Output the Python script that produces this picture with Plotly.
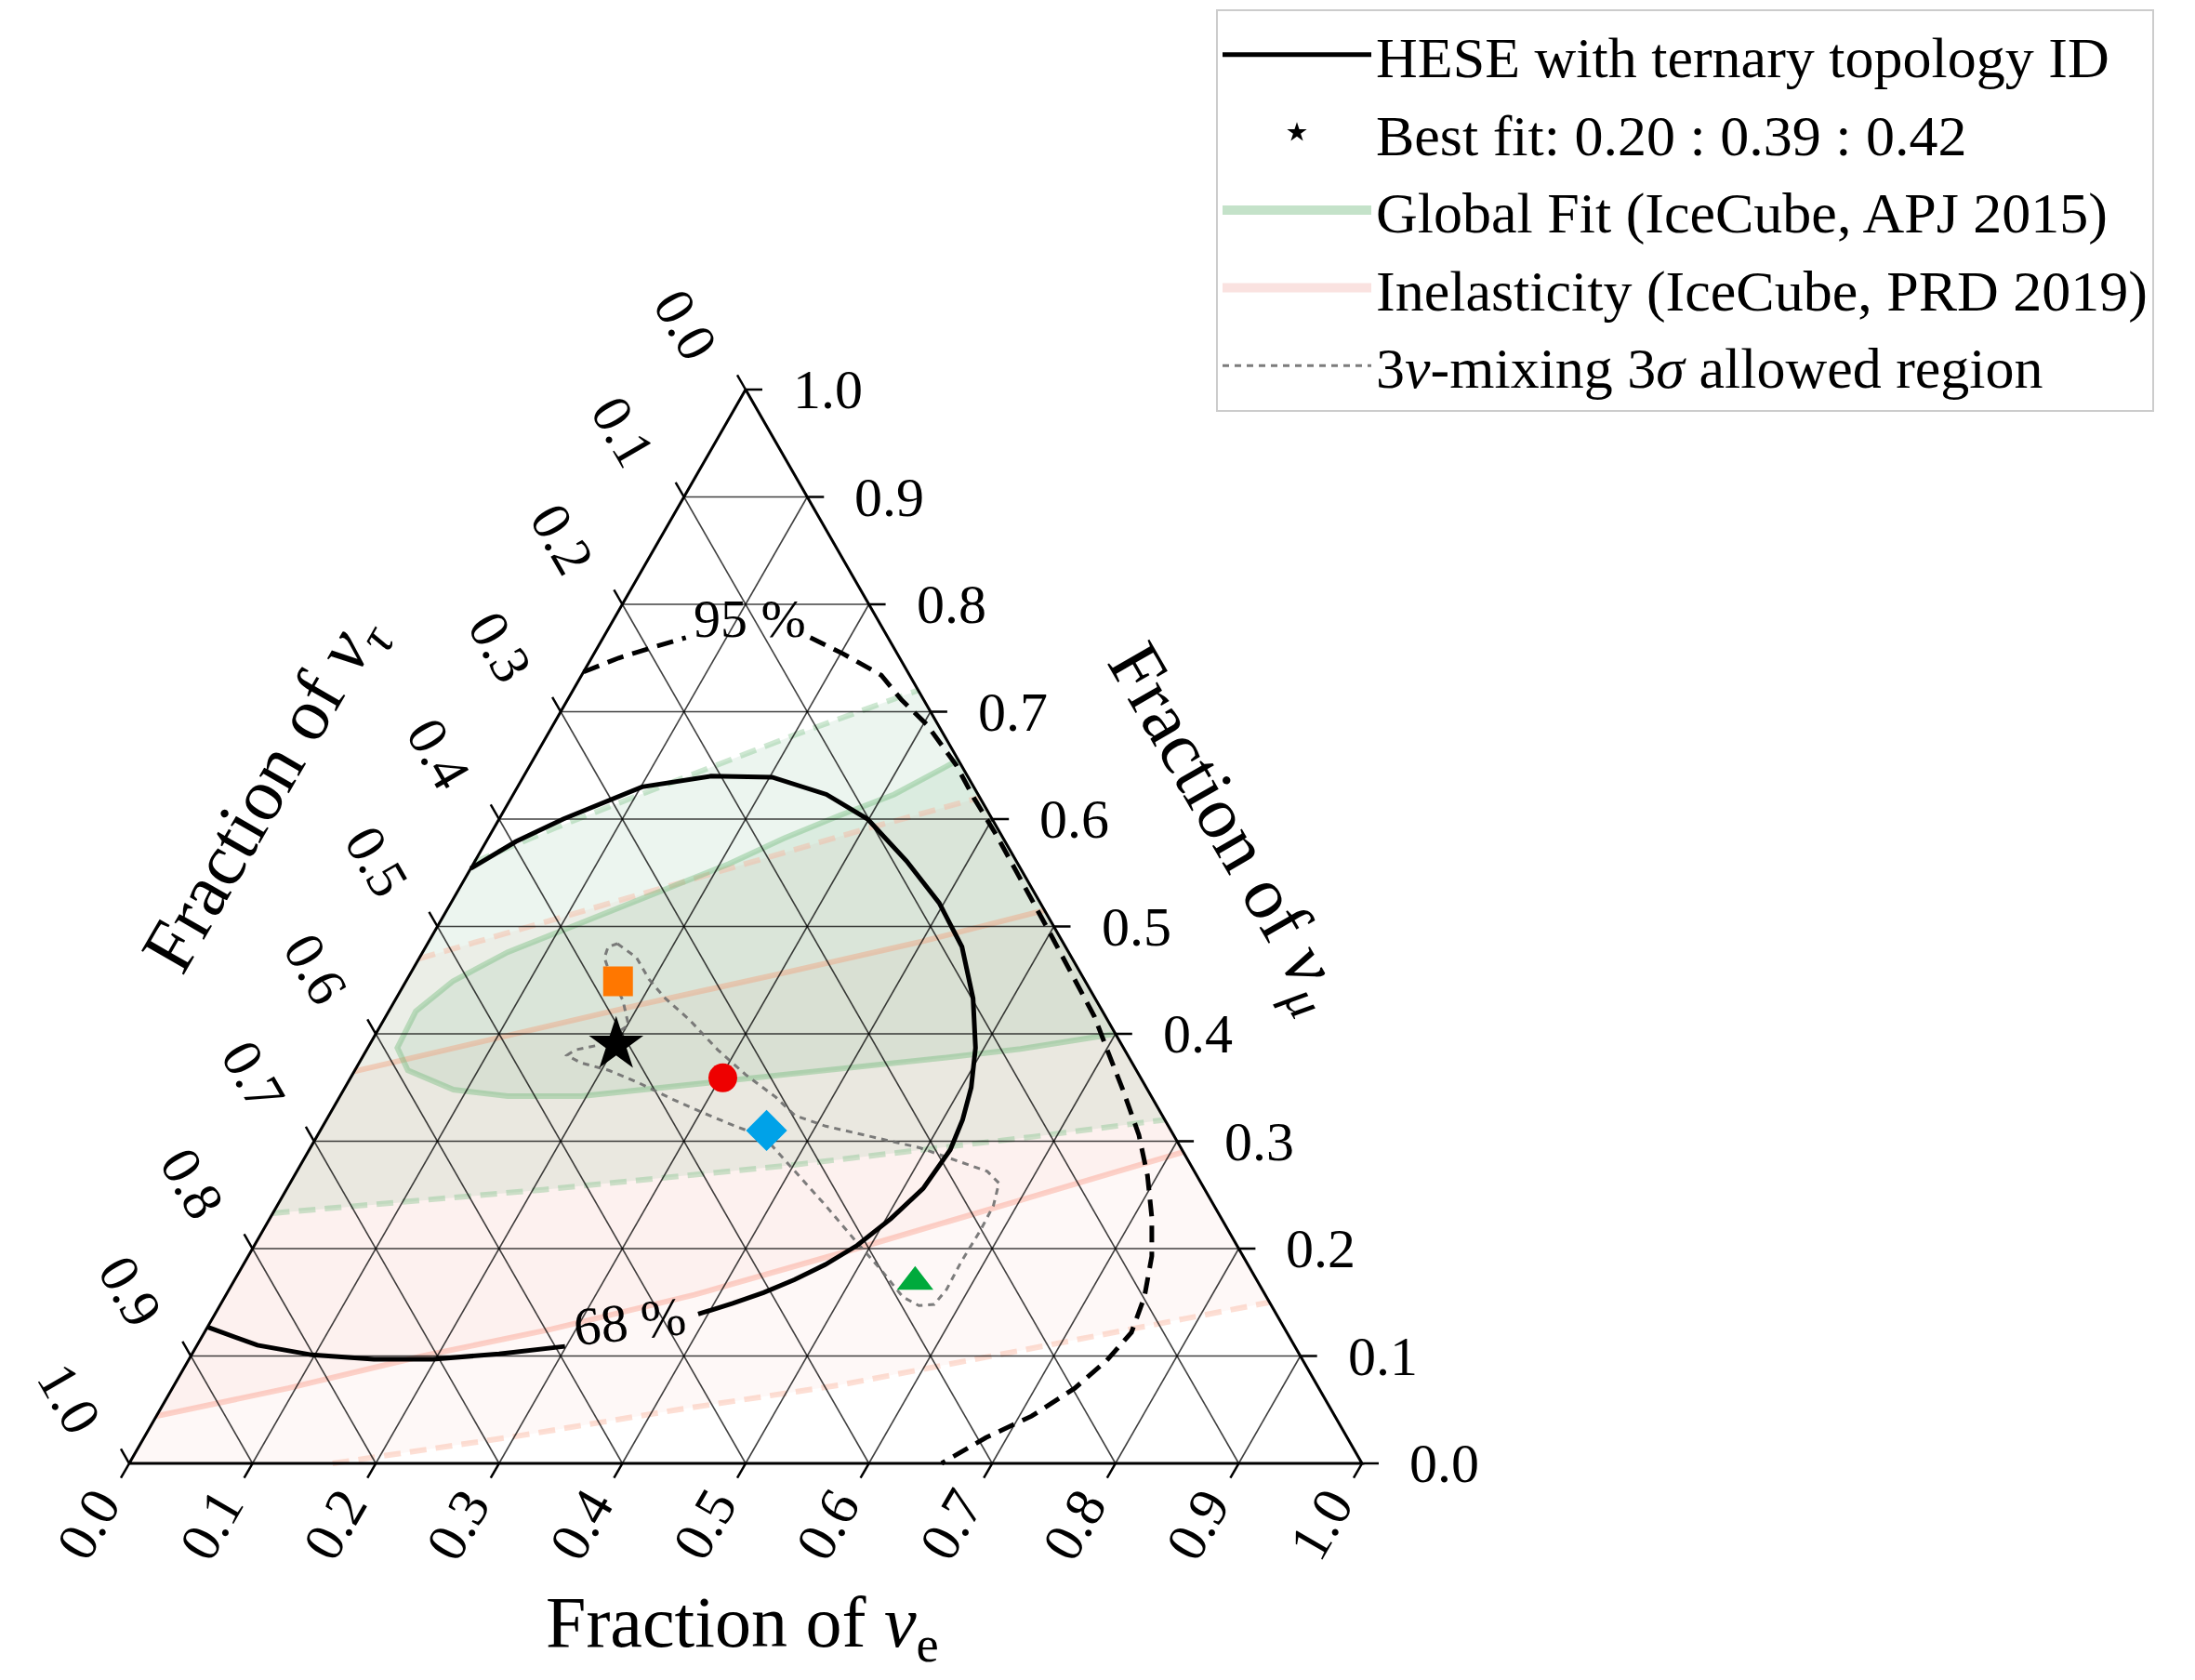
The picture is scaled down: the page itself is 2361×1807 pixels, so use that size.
import math
import plotly.graph_objects as go

# ------------------------------------------------------------------
# DATA  (every composition is given as (nu_e fraction, nu_mu fraction);
#        nu_tau fraction = 1 - e - mu)
# ------------------------------------------------------------------
TICK_VALUES = [0.0, 0.1, 0.2, 0.3, 0.4, 0.5, 0.6, 0.7, 0.8, 0.9, 1.0]
TICK_LABELS = ["0.0", "0.1", "0.2", "0.3", "0.4", "0.5", "0.6", "0.7", "0.8", "0.9", "1.0"]

# HESE with ternary topology ID, 68 % contour (None = gap for the inline label)
HESE68_E = [0.000, 0.024, 0.052, 0.101, 0.152, 0.202, 0.254, 0.299, 0.350, 0.396, 0.435, 0.468,
            0.493, 0.508, 0.516, 0.520, 0.516, 0.504, 0.489, 0.472, 0.454, 0.435, 0.415, 0.392,
            None, 0.299, 0.249, 0.198, 0.150, 0.098, 0.049, 0.000]
HESE68_MU = [0.554, 0.579, 0.600, 0.630, 0.640, 0.639, 0.623, 0.600, 0.561, 0.522, 0.481, 0.433,
             0.387, 0.350, 0.320, 0.292, 0.256, 0.228, 0.203, 0.185, 0.171, 0.159, 0.149, 0.139,
             None, 0.109, 0.102, 0.097, 0.097, 0.101, 0.110, 0.127]
# HESE 95 % contour
HESE95_E = [0.000, 0.022, 0.045, 0.067, None, 0.168, 0.202, 0.243, 0.271, 0.303, 0.346, 0.375,
            0.412, 0.494, 0.575, 0.600, 0.632, 0.666, 0.692, 0.715, 0.733, 0.746, 0.752, 0.745,
            0.732, 0.710, 0.683, 0.659]
HESE95_MU = [0.737, 0.750, 0.760, 0.769, None, 0.769, 0.754, 0.734, 0.711, 0.688, 0.650, 0.620,
             0.584, 0.500, 0.416, 0.386, 0.348, 0.306, 0.268, 0.229, 0.193, 0.155, 0.122, 0.096,
             0.070, 0.044, 0.024, 0.000]
LABEL68 = (0.340, 0.132)
LABEL95 = (0.110, 0.787)

# Best fit
BEST_E = [0.20]
BEST_MU = [0.39]

# Source-composition benchmark points at Earth
SOURCE_E = [0.172, 0.302, 0.362, 0.553]
SOURCE_MU = [0.449, 0.359, 0.310, 0.169]
SOURCE_SYMBOLS = ["square", "circle", "diamond", "triangle-up"]
SOURCE_COLORS = ["#ff7700", "#ee0000", "#00a2e8", "#00aa3c"]

# 3nu-mixing 3 sigma allowed region (closed outline)
MIX_E = [0.154, 0.176, 0.196, 0.217, 0.248, 0.285, 0.319, 0.354, 0.378, 0.408, 0.451, 0.494,
         0.533, 0.560, 0.575, 0.581, 0.582, 0.581, 0.582, 0.579, 0.567, 0.550, 0.520, 0.487,
         0.445, 0.404, 0.363, 0.332, 0.301, 0.269, 0.237, 0.206, 0.180, 0.165, 0.169, 0.184,
         0.201, 0.185, 0.161, 0.150, 0.148, 0.154]
MIX_MU = [0.484, 0.471, 0.451, 0.434, 0.413, 0.385, 0.362, 0.341, 0.324, 0.314, 0.304, 0.294,
          0.281, 0.272, 0.261, 0.240, 0.217, 0.188, 0.162, 0.148, 0.147, 0.155, 0.180, 0.206,
          0.240, 0.272, 0.304, 0.315, 0.327, 0.340, 0.354, 0.366, 0.373, 0.380, 0.385, 0.389,
          0.408, 0.431, 0.457, 0.471, 0.481, 0.484]

# Global fit (IceCube, ApJ 2015)
GF68_E = [0.345, 0.309, 0.274, 0.240, 0.207, 0.173, 0.138, 0.104, 0.069, 0.038, 0.022, 0.024,
          0.043, 0.089, 0.136, 0.196, 0.252, 0.308, 0.364, 0.420, 0.467, 0.530, 0.600]
GF68_MU = [0.655, 0.623, 0.603, 0.582, 0.558, 0.538, 0.517, 0.496, 0.476, 0.449, 0.421, 0.387,
           0.366, 0.348, 0.342, 0.342, 0.349, 0.356, 0.363, 0.370, 0.377, 0.386, 0.400]
GF95_LOW_E = [0.000, 0.100, 0.210, 0.400, 0.580, 0.680]
GF95_LOW_MU = [0.233, 0.243, 0.255, 0.278, 0.304, 0.320]
GF95_UP_E = [0.000, 0.050, 0.100, 0.142, 0.200, 0.280]
GF95_UP_MU = [0.560, 0.592, 0.621, 0.645, 0.678, 0.720]

# Inelasticity (IceCube, PRD 2019)
IN68_LOW_E = [0.000, 0.094, 0.188, 0.280, 0.380, 0.490, 0.600, 0.710]
IN68_LOW_MU = [0.044, 0.070, 0.100, 0.125, 0.157, 0.200, 0.245, 0.290]
IN68_UP_E = [0.000, 0.100, 0.200, 0.300, 0.400, 0.485]
IN68_UP_MU = [0.365, 0.396, 0.427, 0.456, 0.486, 0.515]
IN95_LOW_E = [0.165, 0.300, 0.420, 0.540, 0.670, 0.850]
IN95_LOW_MU = [0.000, 0.025, 0.050, 0.073, 0.105, 0.150]
IN95_UP_E = [0.000, 0.100, 0.200, 0.300, 0.380]
IN95_UP_MU = [0.470, 0.510, 0.550, 0.590, 0.620]
IN95_CORNER_E = [0.0]     # tau vertex enclosed by the 95 % band
IN95_CORNER_MU = [0.0]

LEGEND_NAMES = ["HESE with ternary topology ID", "Best fit: 0.20 : 0.39 : 0.42",
                "Global Fit (IceCube, APJ 2015)", "Inelasticity (IceCube, PRD 2019)",
                "3<i>ν</i>-mixing 3<i>σ</i> allowed region"]

# ------------------------------------------------------------------
# Geometry / helpers
# ------------------------------------------------------------------
H = math.sqrt(3) / 2
FIG_W, FIG_H = 2361, 1807
ORIGIN_PX = (131, 1566)        # pixel of the nu_tau = 1 vertex
BASE_PX = 1326                 # triangle base length in pixels
HEIGHT_PX = 1155               # triangle height in pixels
PX_X = BASE_PX
PX_Y = HEIGHT_PX / H

FONT = "Liberation Serif, Times New Roman, serif"


def txy(es, mus):
    xs, ys = [], []
    for e, m in zip(es, mus):
        if e is None or m is None:
            xs.append(None)
            ys.append(None)
        else:
            xs.append(e + m / 2.0)
            ys.append(m * H)
    return xs, ys


fig = go.Figure()

# ---------------- filled bands ----------------
GREEN_FILL = "rgba(70,160,100,0.10)"
PINK_FILL = "rgba(240,110,95,0.05)"

# Inelasticity 95 %
pe = IN95_LOW_E + IN95_UP_E[::-1] + IN95_CORNER_E
pm = IN95_LOW_MU + IN95_UP_MU[::-1] + IN95_CORNER_MU
x, y = txy(pe, pm)
fig.add_trace(go.Scatter(x=x, y=y, fill="toself", fillcolor=PINK_FILL, mode="none",
                         showlegend=False, hoverinfo="skip"))
# Inelasticity 68 %
pe = IN68_LOW_E + IN68_UP_E[::-1]
pm = IN68_LOW_MU + IN68_UP_MU[::-1]
x, y = txy(pe, pm)
fig.add_trace(go.Scatter(x=x, y=y, fill="toself", fillcolor=PINK_FILL, mode="none",
                         showlegend=False, hoverinfo="skip"))
# Global fit 95 %
pe = GF95_LOW_E + GF95_UP_E[::-1]
pm = GF95_LOW_MU + GF95_UP_MU[::-1]
x, y = txy(pe, pm)
fig.add_trace(go.Scatter(x=x, y=y, fill="toself", fillcolor=GREEN_FILL, mode="none",
                         showlegend=False, hoverinfo="skip"))
# Global fit 68 %
x, y = txy(GF68_E, GF68_MU)
fig.add_trace(go.Scatter(x=x, y=y, fill="toself", fillcolor=GREEN_FILL, mode="none",
                         showlegend=False, hoverinfo="skip"))

# contour lines of the bands
band_lines = [
    (IN95_LOW_E, IN95_LOW_MU, "rgba(250,175,150,0.40)", "dash"),
    (IN95_UP_E, IN95_UP_MU, "rgba(250,175,150,0.40)", "dash"),
    (IN68_LOW_E, IN68_LOW_MU, "rgba(250,150,130,0.40)", "solid"),
    (IN68_UP_E, IN68_UP_MU, "rgba(245,150,110,0.38)", "solid"),
    (GF95_LOW_E, GF95_LOW_MU, "rgba(130,195,140,0.40)", "dash"),
    (GF95_UP_E, GF95_UP_MU, "rgba(130,195,140,0.40)", "dash"),
    (GF68_E, GF68_MU, "rgba(110,185,120,0.40)", "solid"),
]
for be, bm, col, dash in band_lines:
    x, y = txy(be, bm)
    fig.add_trace(go.Scatter(x=x, y=y, mode="lines",
                             line=dict(color=col, width=6,
                                       dash="18px,10px" if dash == "dash" else "solid"),
                             showlegend=False, hoverinfo="skip"))

# ---------------- grid ----------------
gx, gy = [], []
for v in TICK_VALUES[1:-1]:
    for seg in ([(0.0, v), (1.0 - v, v)],          # constant nu_mu
                [(v, 0.0), (v, 1.0 - v)],          # constant nu_e
                [(1.0 - v, 0.0), (0.0, 1.0 - v)]):  # constant nu_tau
        sx, sy = txy([seg[0][0], seg[1][0]], [seg[0][1], seg[1][1]])
        gx += sx + [None]
        gy += sy + [None]
fig.add_trace(go.Scatter(x=gx, y=gy, mode="lines", line=dict(color="rgba(0,0,0,0.75)", width=1.6),
                         showlegend=False, hoverinfo="skip"))

# triangle frame
fx, fy = txy([0.0, 1.0, 0.0, 0.0], [0.0, 0.0, 1.0, 0.0])
fig.add_trace(go.Scatter(x=fx, y=fy, mode="lines", line=dict(color="black", width=3),
                         showlegend=False, hoverinfo="skip"))

# ticks (extensions of the grid lines beyond the frame)
L = 18.0 / PX_X
tx, ty = [], []
ann = []
for v, lab in zip(TICK_VALUES, TICK_LABELS):
    # right axis: nu_mu
    (px,), (py,) = txy([1.0 - v], [v])
    tx += [px, px + L, None]
    ty += [py, py, None]
    ann.append(dict(x=px, y=py, text=lab, showarrow=False, xanchor="left", yanchor="middle",
                    xshift=49, yshift=0, font=dict(family=FONT, size=60, color="black")))
    # left axis: nu_tau
    (px,), (py,) = txy([0.0], [1.0 - v])
    tx += [px, px - L / 2, None]
    ty += [py, py + L * H * PX_X / PX_Y, None]
    ann.append(dict(x=px, y=py, text=lab, showarrow=False, xanchor="center", yanchor="middle",
                    xshift=-65, yshift=70, textangle=60,
                    font=dict(family=FONT, size=60, color="black")))
    # bottom axis: nu_e
    (px,), (py,) = txy([v], [0.0])
    tx += [px, px - L / 2, None]
    ty += [py, py - L * H * PX_X / PX_Y, None]
    ann.append(dict(x=px, y=py, text=lab, showarrow=False, xanchor="center", yanchor="middle",
                    xshift=-44, yshift=-66, textangle=-60,
                    font=dict(family=FONT, size=60, color="black")))
fig.add_trace(go.Scatter(x=tx, y=ty, mode="lines", line=dict(color="black", width=2.5),
                         showlegend=False, hoverinfo="skip"))

# axis titles
(mx,), (my,) = txy([0.5], [0.0])
ann.append(dict(x=mx, y=my, text="Fraction of <i>ν</i><sub>e</sub>", showarrow=False,
                xanchor="center", yanchor="middle", xshift=-4, yshift=-176,
                font=dict(family=FONT, size=78, color="black")))
(mx,), (my,) = txy([0.0], [0.5])
ann.append(dict(x=mx, y=my, text="Fraction of <i>ν</i><sub><i>τ</i></sub>", showarrow=False,
                xanchor="center", yanchor="middle", xshift=-185, yshift=143, textangle=-60,
                font=dict(family=FONT, size=80, color="black")))
(mx,), (my,) = txy([0.5], [0.5])
ann.append(dict(x=mx, y=my, text="Fraction of <i>ν</i><sub><i>μ</i></sub>", showarrow=False,
                xanchor="center", yanchor="middle", xshift=184, yshift=106, textangle=60,
                font=dict(family=FONT, size=80, color="black")))

# ---------------- 3nu mixing region ----------------
x, y = txy(MIX_E, MIX_MU)
fig.add_trace(go.Scatter(x=x, y=y, mode="lines", name=LEGEND_NAMES[4], legendrank=5,
                         line=dict(color="rgba(110,110,110,0.9)", width=3, dash="7px,6px"),
                         hoverinfo="skip"))

# ---------------- HESE contours ----------------
x, y = txy(HESE95_E, HESE95_MU)
fig.add_trace(go.Scatter(x=x, y=y, mode="lines", line=dict(color="black", width=5, dash="18px,10px"),
                         showlegend=False, hoverinfo="skip"))
x, y = txy(HESE68_E, HESE68_MU)
fig.add_trace(go.Scatter(x=x, y=y, mode="lines", name=LEGEND_NAMES[0], legendrank=1,
                         line=dict(color="black", width=5), hoverinfo="skip"))
(lx,), (ly,) = txy([LABEL68[0]], [LABEL68[1]])
ann.append(dict(x=lx, y=ly, text="68 %", showarrow=False, xanchor="center", yanchor="middle",
                textangle=-6, font=dict(family=FONT, size=58, color="black")))
(lx,), (ly,) = txy([LABEL95[0]], [LABEL95[1]])
ann.append(dict(x=lx, y=ly, text="95 %", showarrow=False, xanchor="center", yanchor="middle",
                font=dict(family=FONT, size=58, color="black")))

# ---------------- benchmark markers ----------------
for e, m, sym, col in zip(SOURCE_E, SOURCE_MU, SOURCE_SYMBOLS, SOURCE_COLORS):
    x, y = txy([e], [m])
    size = {"square": 32, "circle": 31, "diamond": 34, "triangle-up": 34}[sym]
    fig.add_trace(go.Scatter(x=x, y=y, mode="markers", showlegend=False, hoverinfo="skip",
                             marker=dict(symbol=sym, size=size, color=col, line=dict(width=0))))

x, y = txy(BEST_E, BEST_MU)
fig.add_trace(go.Scatter(x=x, y=y, mode="markers", name=LEGEND_NAMES[1], legendrank=2,
                         marker=dict(symbol="star", size=44, color="black", line=dict(width=0)),
                         hoverinfo="skip"))

# legend-only patches (thick line samples stand in for matplotlib patches)
fig.add_trace(go.Scatter(x=[None], y=[None], mode="lines", name=LEGEND_NAMES[2],
                         legendrank=3, line=dict(color="rgb(196,226,201)", width=34)))
fig.add_trace(go.Scatter(x=[None], y=[None], mode="lines", name=LEGEND_NAMES[3],
                         legendrank=4, line=dict(color="rgb(250,226,224)", width=34)))

fig.update_layout(
    width=FIG_W, height=FIG_H,
    margin=dict(l=0, r=0, t=0, b=0),
    paper_bgcolor="white", plot_bgcolor="white",
    xaxis=dict(visible=False, range=[-ORIGIN_PX[0] / PX_X, (FIG_W - ORIGIN_PX[0]) / PX_X],
               domain=[0, 1]),
    yaxis=dict(visible=False, range=[-(FIG_H - ORIGIN_PX[1]) / PX_Y, ORIGIN_PX[1] / PX_Y],
               domain=[0, 1]),
    annotations=ann,
    showlegend=True,
    legend=dict(x=1300 / FIG_W, y=1 - 2 / FIG_H, xanchor="left", yanchor="top",
                bgcolor="rgba(255,255,255,0.9)", bordercolor="#cccccc", borderwidth=2,
                font=dict(family=FONT, size=62, color="black"), itemwidth=160,
                traceorder="normal"),
)

fig.write_html("out.html")
